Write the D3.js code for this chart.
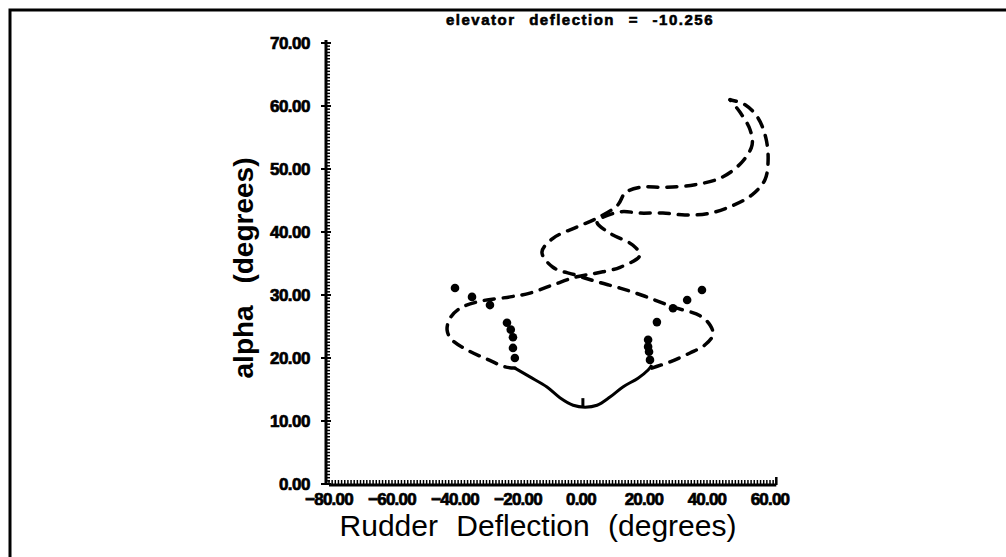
<!DOCTYPE html>
<html><head><meta charset="utf-8">
<script src="https://cdn.jsdelivr.net/npm/d3@7"></script>
<style>
html,body{margin:0;padding:0;background:#fff;}
svg{display:block;}
text{font-family:"Liberation Sans",Arial,sans-serif;fill:#000;}
</style></head>
<body>
<svg id="chart" width="1006" height="557"></svg>
<script>
// ---- data ----
const titleText = "elevator deflection = -10.256";
const xTitle = "Rudder Deflection (degrees)";
const yTitle = "alpha (degrees)";
const xTickValues = [-80, -60, -40, -20, 0, 20, 40, 60];
const yTickValues = [0, 10, 20, 30, 40, 50, 60, 70];

// stable branch (solid)
const solidX = [-21.0, -16.2, -10.8, -6.7, -2.5, 1.3, 5.1, 9.2, 13.3, 18.1, 21.3, 22.5];
const solidY = [18.4, 17.0, 15.4, 13.7, 12.5, 12.2, 12.5, 13.8, 15.4, 16.8, 18.1, 18.9];

// dashed branch starting at left end of the solid branch
const dashAX = [-21.0, -24.1, -29.8, -36.2, -41.0, -42.5, -41.6, -38.4, -32.1, -22.5, -16.2, -8.9, -1.3, 5.1, 12.4, 18.7, 16.5, 9.2, 5.1, 12.4, 18.7, 26.0, 33.0, 40.0, 47.3, 54.3, 58.4, 59.4, 58.7, 56.2, 52.1, 47.3];
const dashAY = [18.4, 18.6, 19.8, 21.3, 22.9, 24.4, 26.3, 27.9, 29.0, 29.7, 30.3, 31.6, 32.9, 33.5, 34.4, 36.3, 37.9, 39.8, 41.6, 43.2, 43.0, 43.0, 42.7, 42.9, 44.0, 45.9, 48.3, 51.4, 54.9, 58.1, 60.2, 61.0];

// dashed branch starting at right end of the solid branch
const dashBX = [22.5, 28.3, 34.6, 39.4, 41.9, 41.0, 37.8, 29.2, 20.3, 12.4, 5.1, -1.9, -8.9, -12.4, -8.9, -1.3, 5.1, 11.7, 14.0, 18.7, 26.7, 36.2, 44.8, 51.1, 54.3, 53.7, 50.5, 47.3];
const dashBY = [18.4, 19.4, 20.8, 22.1, 23.7, 25.2, 26.7, 28.1, 29.8, 31.1, 32.1, 33.2, 34.4, 36.8, 39.0, 40.8, 42.2, 44.3, 46.2, 47.1, 47.1, 47.5, 48.7, 51.1, 53.8, 56.2, 59.0, 61.0];

// dotted markers
const dotsLX = [-40.0, -34.6, -28.9, -23.5, -22.3, -21.6, -21.6, -21.0];
const dotsLY = [31.1, 29.7, 28.4, 25.6, 24.5, 23.3, 21.6, 20.0];
const dotsRX = [38.4, 33.7, 29.2, 24.1, 21.3, 21.3, 21.6, 21.9];
const dotsRY = [30.8, 29.2, 27.9, 25.7, 22.9, 21.8, 21.0, 19.7];

const markX = [0.6];
const markY = [12.2];

// ---- drawing ----
const svg = d3.select("#chart");
const x = d3.scaleLinear().domain([-80, 60]).range([329, 770]);
const y = d3.scaleLinear().domain([0, 70]).range([484, 43]);

// frame
svg.append("path").attr("d", "M10,557 L10,10 L1006,10")
  .attr("fill", "none").attr("stroke", "#000").attr("stroke-width", 3);

// axes lines
const axisG = svg.append("g");
axisG.append("line").attr("x1", 326).attr("x2", 326).attr("y1", y(70) - 3).attr("y2", y(0) + 1)
  .attr("stroke", "#000").attr("stroke-width", 3);
axisG.append("line").attr("x1", 329).attr("x2", x(62)).attr("y1", y(0) + 1).attr("y2", y(0) + 1)
  .attr("stroke", "#000").attr("stroke-width", 3);
axisG.append("line").attr("x1", x(62)).attr("x2", x(62)).attr("y1", y(0) + 1).attr("y2", y(0) - 7)
  .attr("stroke", "#000").attr("stroke-width", 2.5);

// minor ticks
const yMinor = d3.range(0, 70.01, 0.5);
axisG.selectAll(".ym").data(yMinor).join("line")
  .attr("x1", 326).attr("x2", 330).attr("y1", d => y(d)).attr("y2", d => y(d))
  .attr("stroke", "#000").attr("stroke-width", 1.5);
const xMinor = d3.range(-80, 62.01, 1);
axisG.selectAll(".xm").data(xMinor).join("line")
  .attr("x1", d => x(d)).attr("x2", d => x(d)).attr("y1", y(0)).attr("y2", y(0) - 4)
  .attr("stroke", "#000").attr("stroke-width", 1.5);
// major ticks
axisG.selectAll(".yM").data(yTickValues).join("line")
  .attr("x1", 321).attr("x2", 331).attr("y1", d => y(d)).attr("y2", d => y(d))
  .attr("stroke", "#000").attr("stroke-width", 2);

// tick labels
svg.selectAll(".yl").data(yTickValues).join("text")
  .attr("x", 310).attr("y", d => y(d)).attr("dy", "0.36em")
  .attr("text-anchor", "end").attr("font-size", 17).attr("font-weight", "bold")
  .attr("letter-spacing", -0.5).attr("stroke", "#000").attr("stroke-width", 0.7)
  .text(d => d3.format(".2f")(d));
svg.selectAll(".xl").data(xTickValues).join("text")
  .attr("x", d => x(d)).attr("y", 505)
  .attr("text-anchor", "middle").attr("font-size", 17).attr("font-weight", "bold")
  .attr("letter-spacing", -0.8).attr("stroke", "#000").attr("stroke-width", 0.7)
  .text(d => d3.format(".2f")(d).replace("-", "\u2013"));

// titles
svg.append("text").attr("x", 580).attr("y", 25).attr("text-anchor", "middle")
  .attr("font-size", 15).attr("font-weight", "bold").attr("letter-spacing", 1.5)
  .attr("stroke", "#000").attr("stroke-width", 0.6)
  .attr("word-spacing", 8).text(titleText);
svg.append("text").attr("x", 538).attr("y", 536).attr("text-anchor", "middle")
  .attr("font-size", 30).attr("word-spacing", 10).text(xTitle);
svg.append("text").attr("transform", "translate(253,268) rotate(-90)")
  .attr("text-anchor", "middle").attr("font-size", 28).attr("font-weight", "bold")
  .attr("word-spacing", 14).text(yTitle);

// curves
const line = d3.line().x(d => x(d[0])).y(d => y(d[1])).curve(d3.curveCatmullRom.alpha(0.5));
const zip = (a, b) => a.map((v, i) => [v, b[i]]);

svg.append("path").attr("d", line(zip(solidX, solidY)))
  .attr("fill", "none").attr("stroke", "#000").attr("stroke-width", 3);
[zip(dashAX, dashAY), zip(dashBX, dashBY)].forEach(pts => {
  svg.append("path").attr("d", line(pts))
    .attr("fill", "none").attr("stroke", "#000").attr("stroke-width", 3.5)
    .attr("stroke-dasharray", "10,9").attr("stroke-linecap", "round");
});
const dots = zip(dotsLX, dotsLY).concat(zip(dotsRX, dotsRY));
svg.selectAll(".dot").data(dots).join("circle")
  .attr("cx", d => x(d[0])).attr("cy", d => y(d[1])).attr("r", 4.3).attr("fill", "#000");
svg.selectAll(".mk").data(zip(markX, markY)).join("line")
  .attr("x1", d => x(d[0])).attr("x2", d => x(d[0]))
  .attr("y1", d => y(d[1])).attr("y2", d => y(d[1]) - 9)
  .attr("stroke", "#000").attr("stroke-width", 3);
</script>
</body></html>
